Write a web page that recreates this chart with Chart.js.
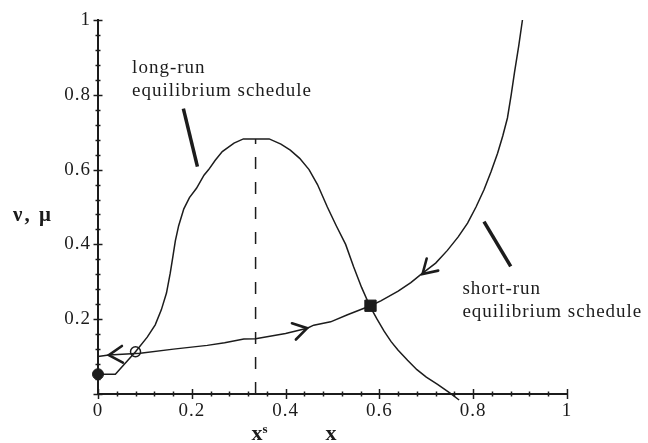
<!DOCTYPE html>
<html>
<head>
<meta charset="utf-8">
<script src="https://cdn.jsdelivr.net/npm/chart.js@4/dist/chart.umd.min.js"></script>
<style>
  html, body { margin: 0; padding: 0; background: #fff; }
  #wrap { width: 648px; height: 443px; }
</style>
</head>
<body>
<div id="wrap"><canvas id="chart" width="648" height="443"></canvas></div>
<script>
// Dados (coordenadas em unidades do gráfico)

// long-run equilibrium schedule (corcova)
const longRunX = [0, 0.037, 0.08, 0.105, 0.122, 0.135, 0.146, 0.154, 0.160, 0.165, 0.172, 0.183, 0.195, 0.21, 0.226, 0.236, 0.25, 0.265, 0.29, 0.31, 0.365, 0.39, 0.41, 0.43, 0.45, 0.468, 0.489, 0.508, 0.528, 0.545, 0.562, 0.58, 0.595, 0.61, 0.625, 0.64, 0.66, 0.68, 0.70, 0.724, 0.75, 0.77];
const longRunY = [0.053, 0.053, 0.113, 0.152, 0.185, 0.225, 0.27, 0.323, 0.37, 0.41, 0.45, 0.495, 0.525, 0.55, 0.585, 0.6, 0.625, 0.648, 0.671, 0.682, 0.682, 0.668, 0.652, 0.63, 0.6, 0.56, 0.5, 0.45, 0.4, 0.34, 0.285, 0.234, 0.2, 0.168, 0.14, 0.117, 0.09, 0.065, 0.045, 0.026, 0.003, -0.016];

// short-run equilibrium schedule (crescente)
const shortRunX = [0, 0.023, 0.09, 0.161, 0.233, 0.27, 0.311, 0.336, 0.40, 0.446, 0.46, 0.496, 0.532, 0.581, 0.603, 0.64, 0.667, 0.688, 0.72, 0.745, 0.768, 0.788, 0.806, 0.823, 0.838, 0.852, 0.863, 0.873, 0.881, 0.888, 0.897, 0.905];
const shortRunY = [0.1, 0.104, 0.109, 0.12, 0.13, 0.137, 0.147, 0.148, 0.162, 0.176, 0.184, 0.193, 0.212, 0.236, 0.249, 0.275, 0.298, 0.319, 0.35, 0.384, 0.42, 0.457, 0.5, 0.546, 0.594, 0.644, 0.69, 0.738, 0.8, 0.859, 0.93, 1.0];

// x^s (linha tracejada até o pico)
const xStar = 0.336;
const xStarTop = 0.682;

// Marcadores
const filledCircle = [0, 0.053];
const openCircle = [0.08, 0.113];
const filledSquare = [0.581, 0.236];

// Setas ao longo da curva curta (ponta, ponto de onde vem)
const arrowTips = [[0.023, 0.104], [0.446, 0.176], [0.692, 0.321]];
const arrowFrom = [[0.09, 0.109], [0.40, 0.162], [0.745, 0.384]];

// Traços indicadores das legendas
const longRunPointer = [[0.182, 0.763], [0.212, 0.608]];
const shortRunPointer = [[0.823, 0.461], [0.880, 0.341]];

// Eixos
const xTickValues = [0, 0.2, 0.4, 0.6, 0.8, 1];
const xTickLabels = ['0', '0.2', '0.4', '0.6', '0.8', '1'];
const yTickValues = [0.2, 0.4, 0.6, 0.8, 1];
const yTickLabels = ['0.2', '0.4', '0.6', '0.8', '1'];
const minorStep = 0.04;

const INK = '#1c1c1c';
const SERIF = '"Liberation Serif", "DejaVu Serif", serif';

function toPoints(xs, ys) {
    return xs.map((v, i) => ({ x: v, y: ys[i] }));
}

// Plugin para marcas de escala, setas e textos
const decorPlugin = {
    id: 'decor',
    beforeDraw(chart) {
        chart.ctx.letterSpacing = '1px';
    },
    afterDatasetsDraw(chart) {
        const ctx = chart.ctx;
        const x = chart.scales.x;
        const y = chart.scales.y;
        const area = chart.chartArea;

        ctx.save();
        ctx.strokeStyle = INK;
        ctx.fillStyle = INK;
        ctx.lineWidth = 1.5;

        // marcas do eixo x (atravessam o eixo)
        const y0 = y.getPixelForValue(0);
        for (let k = 0; k <= Math.round(1 / minorStep); k++) {
            const v = k * minorStep;
            const px = Math.round(x.getPixelForValue(v)) + 0.5;
            const major = k % 5 === 0;
            const h = major ? 5 : 2.5;
            ctx.beginPath();
            ctx.moveTo(px, y0 - h);
            ctx.lineTo(px, y0 + h);
            ctx.stroke();
        }
        // marcas do eixo y
        const x0 = x.getPixelForValue(0);
        for (let k = 0; k <= Math.round(1 / minorStep); k++) {
            const v = k * minorStep;
            const py = Math.round(y.getPixelForValue(v)) + 0.5;
            const major = k % 5 === 0;
            const w = major ? 4.5 : 2.5;
            ctx.beginPath();
            ctx.moveTo(x0 - w, py);
            ctx.lineTo(x0 + w, py);
            ctx.stroke();
        }

        // setas
        ctx.lineWidth = 2.6;
        ctx.lineCap = 'round';
        arrowTips.forEach((tip, i) => {
            const from = arrowFrom[i];
            const tx = x.getPixelForValue(tip[0]), ty = y.getPixelForValue(tip[1]);
            const fx = x.getPixelForValue(from[0]), fy = y.getPixelForValue(from[1]);
            const a = Math.atan2(fy - ty, fx - tx);
            const L = 16, s = 0.55;
            ctx.beginPath();
            ctx.moveTo(tx + L * Math.cos(a + s), ty + L * Math.sin(a + s));
            ctx.lineTo(tx, ty);
            ctx.lineTo(tx + L * Math.cos(a - s), ty + L * Math.sin(a - s));
            ctx.stroke();
        });

        // textos das curvas
        ctx.font = '19px ' + SERIF;
        ctx.textAlign = 'left';
        ctx.textBaseline = 'alphabetic';
        ctx.fillText('long-run', x.getPixelForValue(0.0727), y.getPixelForValue(0.857));
        ctx.fillText('equilibrium schedule', x.getPixelForValue(0.0727), y.getPixelForValue(0.797));
        ctx.fillText('short-run', x.getPixelForValue(0.777), y.getPixelForValue(0.268));
        ctx.fillText('equilibrium schedule', x.getPixelForValue(0.777), y.getPixelForValue(0.207));

        // rótulos dos eixos
        ctx.font = 'bold 21px ' + SERIF;
        ctx.letterSpacing = '2px';
        ctx.fillText('ν, μ', 13, 221);
        ctx.letterSpacing = '0px';
        ctx.font = 'bold 22px ' + SERIF;
        const xsPx = x.getPixelForValue(xStar);
        ctx.fillText('x', xsPx - 4, area.bottom + 46);
        ctx.font = 'bold 13px ' + SERIF;
        ctx.fillText('s', xsPx + 7, area.bottom + 39);
        ctx.font = 'bold 22px ' + SERIF;
        ctx.fillText('x', x.getPixelForValue(0.485), area.bottom + 46);

        ctx.restore();
    }
};

const lineBase = {
    showLine: true,
    pointRadius: 0,
    borderColor: INK,
    borderWidth: 1.5,
    tension: 0,
    clip: false
};

const data = {
    datasets: [
        Object.assign({}, lineBase, { label: 'long-run', data: toPoints(longRunX, longRunY) }),
        Object.assign({}, lineBase, { label: 'short-run', data: toPoints(shortRunX, shortRunY) }),
        Object.assign({}, lineBase, {
            label: 'xs',
            data: [{ x: xStar, y: 0 }, { x: xStar, y: xStarTop }],
            borderDash: [12, 13]
        }),
        Object.assign({}, lineBase, {
            label: 'pointer long',
            data: longRunPointer.map(p => ({ x: p[0], y: p[1] })),
            borderWidth: 3.5
        }),
        Object.assign({}, lineBase, {
            label: 'pointer short',
            data: shortRunPointer.map(p => ({ x: p[0], y: p[1] })),
            borderWidth: 3.5
        }),
        {
            label: 'filled circle',
            data: [{ x: filledCircle[0], y: filledCircle[1] }],
            pointStyle: 'circle', pointRadius: 5.5,
            backgroundColor: INK, borderColor: INK, borderWidth: 1, clip: false
        },
        {
            label: 'open circle',
            data: [{ x: openCircle[0], y: openCircle[1] }],
            pointStyle: 'circle', pointRadius: 5,
            backgroundColor: 'rgba(0,0,0,0)', borderColor: INK, borderWidth: 1.5, clip: false
        },
        {
            label: 'filled square',
            data: [{ x: filledSquare[0], y: filledSquare[1] }],
            pointStyle: 'rect', pointRadius: 8,
            backgroundColor: INK, borderColor: INK, borderWidth: 1, clip: false
        }
    ]
};

const config = {
    type: 'scatter',
    data: data,
    options: {
        responsive: false,
        animation: false,
        devicePixelRatio: 1,
        layout: { padding: { top: 20, right: 81, left: 0, bottom: 0 } },
        plugins: {
            legend: { display: false },
            tooltip: { enabled: false }
        },
        scales: {
            x: {
                type: 'linear',
                position: 'bottom',
                min: 0,
                max: 1,
                grid: { display: false, drawTicks: false },
                border: { display: true, color: INK, width: 2 },
                afterBuildTicks: s => { s.ticks = xTickValues.map(v => ({ value: v })); },
                afterFit: s => { s.height = 49; },
                ticks: {
                    padding: 6,
                    color: INK,
                    font: { family: SERIF, size: 19 },
                    maxRotation: 0,
                    callback: (v, i) => xTickLabels[i]
                }
            },
            y: {
                type: 'linear',
                position: 'left',
                min: 0,
                max: 1,
                grid: { display: false, drawTicks: false },
                border: { display: true, color: INK, width: 2 },
                afterBuildTicks: s => { s.ticks = yTickValues.map(v => ({ value: v })); },
                afterFit: s => { s.width = 98; },
                ticks: {
                    padding: 7,
                    color: INK,
                    font: { family: SERIF, size: 19 },
                    callback: (v, i) => yTickLabels[i]
                }
            }
        }
    },
    plugins: [decorPlugin]
};

new Chart(document.getElementById('chart'), config);
</script>
</body>
</html>
